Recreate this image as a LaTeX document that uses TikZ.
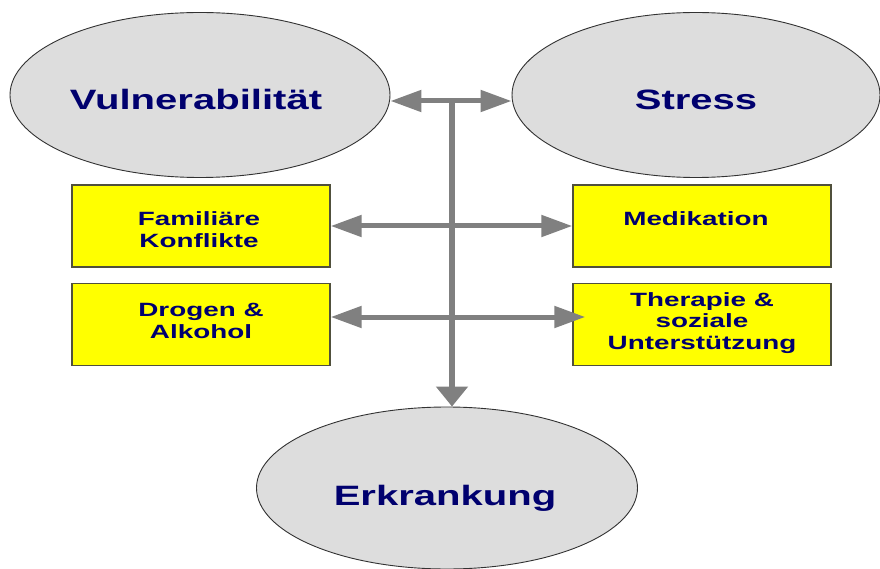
\documentclass[tikz,border=0pt]{standalone}
\usepackage{fontspec}
\setmainfont{Liberation Sans}
\usepackage{graphicx}
\usetikzlibrary{arrows.meta,shapes.geometric}
\definecolor{navytext}{RGB}{0,0,110}
\definecolor{ellfill}{RGB}{221,221,221}
\definecolor{ellline}{RGB}{50,50,50}
\definecolor{boxfill}{RGB}{255,255,0}
\definecolor{boxline}{RGB}{80,80,60}
\definecolor{arrowgray}{RGB}{128,128,128}
\newcommand{\wideE}[1]{\scalebox{1.43}[1]{#1}}
\newcommand{\wideB}[1]{\scalebox{1.45}[1]{\begin{tabular}[t]{@{}c@{}}#1\end{tabular}}}
\begin{document}
\begin{tikzpicture}[x=1pt,y=-1pt,
  ellnode/.style={ellipse,draw=ellline,line width=0.9pt,fill=ellfill,inner sep=0pt,
    text=navytext,font=\fontsize{28}{32}\selectfont\bfseries,text depth=0pt},
  boxnode/.style={rectangle,draw=boxline,line width=1.4pt,fill=boxfill,inner sep=0pt,
    minimum width=258pt,minimum height=82pt,text=navytext,
    font=\fontsize{19.2}{21.5}\selectfont\bfseries},
  conn/.style={draw=arrowgray,line width=5pt},
  hhead/.style={-{Triangle[length=31pt,width=21pt]},arrowgray},
  dblarrow/.style={conn,{Triangle[length=31pt,width=21pt]}-{Triangle[length=31pt,width=21pt]}},
  downarrow/.style={draw=arrowgray,line width=6pt,-{Triangle[length=20pt,width=31pt]}}
]
\useasboundingbox (0,0) rectangle (880,569);
\fill[white] (0,0) rectangle (880,569);

\node[ellnode,minimum width=380pt,minimum height=165pt,text height=30pt] (vul) at (200,95) {\wideE{Vulnerabilität}\hspace*{8pt}};
\node[ellnode,minimum width=368pt,minimum height=165pt,text height=30pt] (stress) at (696,95) {\wideE{Stress}};
\node[ellnode,minimum width=381pt,minimum height=162pt,text height=34pt] (erk) at (447,488) {\wideE{Erkrankung}\hspace*{4pt}};

\node[boxnode,text height=20pt,text depth=20pt] (fam) at (201,226) {\wideB{Familiäre\\Konflikte}\hspace*{4pt}};
\node[boxnode,text height=20pt,text depth=20pt] (med) at (702,226) {\wideB{Medikation}\hspace*{12pt}};
\node[boxnode,text height=10pt,text depth=25.6pt] (drog) at (201,324.5) {\wideB{Drogen \&\\Alkohol}};
\node[boxnode,text height=10pt,text depth=47pt] (ther) at (702,324.5) {\wideB{Therapie \&\\soziale\\Unterstützung}};

\coordinate (junc) at (452,101);
\draw[conn,hhead] (junc) -- (vul.east |- junc);
\draw[conn,hhead] (junc) -- (stress.west |- junc);
\draw[dblarrow] (fam.east) -- (med.west);
\draw[dblarrow] ([yshift=7.5pt]drog.east) -- ([xshift=13pt,yshift=7.5pt]ther.west);
\draw[downarrow] ([yshift=2.5pt]junc) -- (junc |- erk.north);
\end{tikzpicture}
\end{document}
